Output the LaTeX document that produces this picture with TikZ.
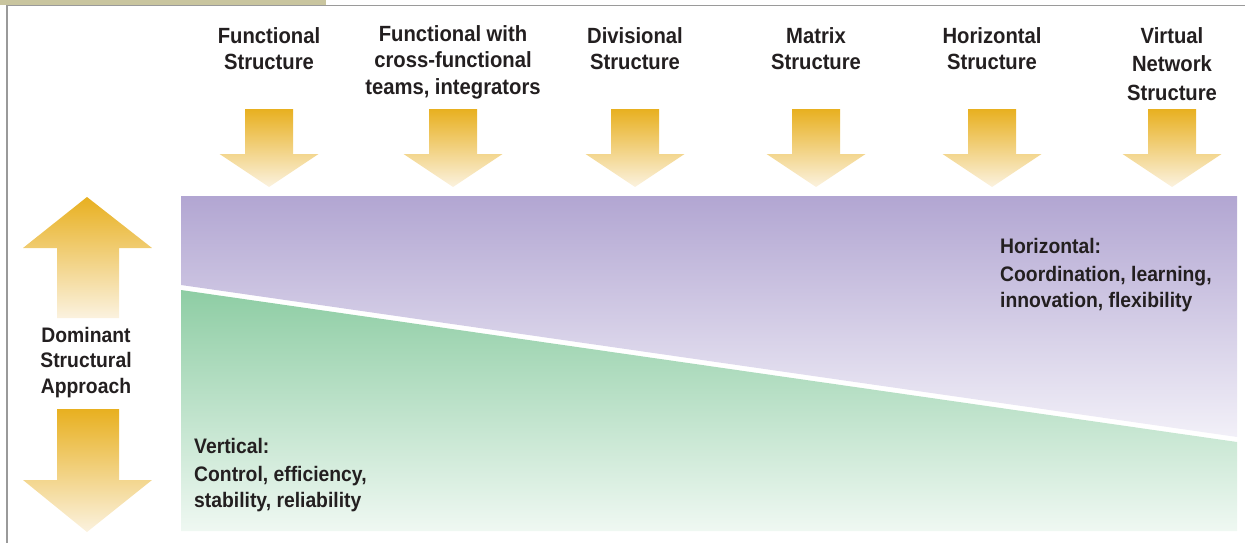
\documentclass[tikz,border=0pt]{standalone}
\usepackage{fontspec}
\setmainfont[FakeStretch=0.92]{Liberation Sans}
\definecolor{txt}{HTML}{231F20}
\definecolor{goldtop}{HTML}{E8B020}
\definecolor{goldbot}{HTML}{FBF2DF}
\definecolor{purtop}{HTML}{B2A6D2}
\definecolor{purbot}{HTML}{F2F0F8}
\definecolor{grntop}{HTML}{8ECDA4}
\definecolor{grnbot}{HTML}{EFF8F2}
\definecolor{frame}{HTML}{9A9A9A}
\definecolor{tan}{HTML}{C9C59F}
\tikzset{
  toplabel/.style={font=\fontsize{22}{26}\selectfont\bfseries, text=txt, align=center, anchor=base, inner sep=0pt},
  sidelabel/.style={font=\fontsize{21}{26}\selectfont\bfseries, text=txt, align=left, anchor=base west, inner sep=0pt},
  domlabel/.style={font=\fontsize{21}{25.5}\selectfont\bfseries, text=txt, align=center, anchor=base, inner sep=0pt},
  goldarrow/.style={top color=goldtop, bottom color=goldbot, draw=none},
}
\begin{document}
\begin{tikzpicture}[x=1pt,y=-1pt]
\useasboundingbox (0,0) rectangle (1245,543);
% frame
\fill[tan] (0,0) rectangle (326,5);
\draw[frame, line width=1.4pt] (7,543) -- (7,5.5) -- (1245,5.5);
% top labels (anchored at baseline of last line)
\node[toplabel] (l1) at (269,69.5) {Functional\\Structure};
\node[toplabel] (l2) at (453,94) {Functional with\\cross-functional\\teams, integrators};
\node[toplabel] (l3) at (635,69.5) {Divisional\\Structure};
\node[toplabel] (l4) at (816,69.5) {Matrix\\Structure};
\node[toplabel] (l5) at (992,69.5) {Horizontal\\Structure};
\node[toplabel, font=\fontsize{22}{28.5}\selectfont\bfseries] (l6) at (1172,100) {Virtual\\Network\\Structure};
% down arrows
\foreach \c in {269,453,635,816,992,1172}{
  \shade[goldarrow] (\c-24,109) -- (\c+24,109) -- (\c+24,154) -- (\c+49.5,154) -- (\c,187) -- (\c-49.5,154) -- (\c-24,154) -- cycle;
}
% panel
\shade[top color=purtop, bottom color=purbot] (181,196) -- (1237,196) -- (1237,437) -- (181,285) -- cycle;
\shade[top color=grntop, bottom color=grnbot] (181,290) -- (1237,442) -- (1237,531) -- (181,531) -- cycle;
% panel labels
\node[sidelabel] (hz) at (1000,307) {Horizontal:\\[2pt]Coordination, learning,\\innovation, flexibility};
\node[sidelabel] (vt) at (194,507) {Vertical:\\[2pt]Control, efficiency,\\stability, reliability};
% left
\shade[goldarrow] (87,197) -- (152,248) -- (119,248) -- (119,318) -- (57,318) -- (57,248) -- (23,248) -- cycle;
\shade[goldarrow] (57,409) -- (119,409) -- (119,480) -- (152,480) -- (87,532) -- (23,480) -- (57,480) -- cycle;
\node[domlabel] (dom) at (86,393) {Dominant\\Structural\\Approach};
\end{tikzpicture}
\end{document}
